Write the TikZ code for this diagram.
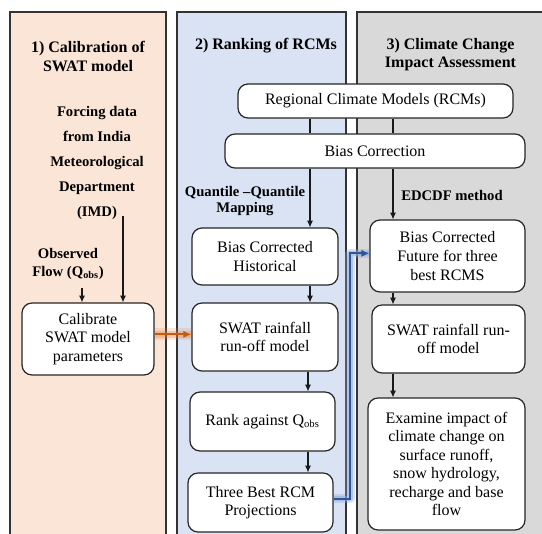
\documentclass[tikz,border=0pt]{standalone}
\usepackage{fontspec}
\setmainfont{Liberation Serif}
\usetikzlibrary{arrows.meta}
\definecolor{peach}{HTML}{FBE5D6}
\definecolor{lblue}{HTML}{DAE3F3}
\definecolor{lgray}{HTML}{D9D9D9}
\definecolor{orng}{HTML}{ED7D31}
\definecolor{orngdark}{HTML}{C55A11}
\definecolor{blu}{HTML}{2F5597}
\definecolor{blulight}{HTML}{8FAADC}
\begin{document}
\begin{tikzpicture}[x=0.75pt,y=-0.75pt,
  panel/.style={draw=black!80, line width=0.8pt},
  box/.style={draw=black!85, fill=white, rounded corners=7.5pt, line width=0.9pt,
    align=center, font=\fontsize{12}{14}\selectfont, inner sep=0pt},
  lbl/.style={align=center, font=\bfseries\fontsize{11}{12.5}\selectfont, inner sep=0pt},
  ttl/.style={align=center, font=\bfseries\fontsize{12}{14}\selectfont, inner sep=0pt},
  arr/.style={-{Latex[length=5pt,width=4.5pt]}, line width=0.8pt, draw=black!90},
  conn/.style={line width=0.8pt, draw=black!90},
]
\useasboundingbox (0,0) rectangle (542,533);
\begin{scope}
\clip (0,0) rectangle (542,533);
% panels
\path[panel, fill=peach] (10,12) rectangle (166,550);
\path[panel, fill=lblue] (177,12) rectangle (346,550);
\path[panel, fill=lgray] (357,12) rectangle (560,550);
\end{scope}

% titles
\node[ttl] (t1) at (88,56.5) {1) Calibration of\\SWAT model};
\node[ttl] (t2) at (266,46) {2) Ranking of RCMs};
\node[ttl] (t3) at (450.5,54.5) {3) Climate Change\\Impact Assessment};

% panel 1 labels
\node[lbl, font=\bfseries\fontsize{11}{18.75}\selectfont] (force) at (97,162.5)
  {Forcing data\\from India\\Meteorological\\Department\\(IMD)};
\node[lbl, font=\bfseries\fontsize{11}{13.5}\selectfont] (obs) at (68,264)
  {Observed\\Flow (Q\textsubscript{obs})};

% boxes
\node[box, minimum width=206.25pt, minimum height=25.5pt] (rcm) at (375.5,101) {Regional Climate Models (RCMs)};
\node[box, minimum width=225pt, minimum height=25.5pt] (bc) at (375,151) {Bias Correction};
\node[box, minimum width=109.5pt, minimum height=42.75pt] (bch) at (265,256.5) {Bias Corrected\\Historical};
\node[box, minimum width=109.5pt, minimum height=51pt] (sw2) at (265,337) {SWAT rainfall\\run-off model};
\node[box, minimum width=108.75pt, minimum height=44.25pt] (rank) at (262.5,421.5) {Rank against Q\textsubscript{obs}};
\node[box, minimum width=108.75pt, minimum height=44.25pt] (three) at (260.5,502.5) {Three Best RCM\\Projections};
\node[box, minimum width=99pt, minimum height=54pt] (cal) at (88,339) {Calibrate\\SWAT model\\parameters};
\node[box, minimum width=116.25pt, minimum height=54pt] (bcf) at (447.5,256) {Bias Corrected\\Future for three\\best RCMS};
\node[box, minimum width=114.75pt, minimum height=51pt] (sw3) at (448.5,339) {SWAT rainfall run-\\off model};
\node[box, minimum width=117.75pt, minimum height=99pt, font=\fontsize{12}{13.9}\selectfont] (exam) at (446.5,464)
  {Examine impact of\\climate change on\\surface runoff,\\snow hydrology,\\recharge and base\\flow};

% method labels
\node[lbl] (qq) at (245,201) {Quantile --Quantile\\Mapping};
\node[lbl] (ed) at (452,195) {EDCDF method};

% helper coordinates
\coordinate (xL) at (310,0);
\coordinate (xM) at (308,0);
\coordinate (xR) at (393,0);
\coordinate (imdtop) at (123,216);
\coordinate (obstop) at (82,288);
\coordinate (bturn) at (350,0);

% connectors
\draw[conn] (rcm.south -| xL) -- (bc.north -| xL);
\draw[conn] (rcm.south -| xR) -- (bc.north -| xR);
\draw[arr] (bc.south -| xL) -- (bch.north -| xL);
\draw[arr] (bc.south -| xR) -- (bcf.north -| xR);
\draw[arr] (bch.south -| xL) -- (sw2.north -| xL);
\draw[arr] (sw2.south -| xM) -- (rank.north -| xM);
\draw[arr] (rank.south -| xM) -- (three.north -| xM);
\draw[arr] (bcf.south -| xR) -- (sw3.north -| xR);
\draw[arr] (sw3.south -| xR) -- (exam.north -| xR);
\draw[arr] (imdtop) -- (cal.north -| imdtop);
\draw[arr] (obstop) -- (cal.north -| obstop);

% orange glowing arrow
\draw[orng, opacity=0.18, line width=9pt] ([yshift=3.5pt]cal.east) -- ([yshift=3.5pt]cal.east -| sw2.west);
\draw[orng, opacity=0.3, line width=5pt] ([yshift=3.5pt]cal.east) -- ([yshift=3.5pt]cal.east -| sw2.west);
\draw[orngdark, line width=1.5pt, -{Latex[length=6pt,width=5.5pt]}] ([yshift=3.5pt]cal.east) -- ([yshift=3.5pt]cal.east -| sw2.west);

% blue glowing arrow
\draw[blulight, opacity=0.35, line width=7pt, line join=round] ([yshift=3pt]three.east) -| ([yshift=2pt]bturn |- bcf.west) -- ([yshift=2pt]bcf.west);
\draw[blulight, opacity=0.5, line width=4pt, line join=round] ([yshift=3pt]three.east) -| ([yshift=2pt]bturn |- bcf.west) -- ([yshift=2pt]bcf.west);
\draw[blu, line width=1.5pt, -{Latex[length=6pt,width=5.5pt]}] ([yshift=3pt]three.east) -| ([yshift=2pt]bturn |- bcf.west) -- ([yshift=2pt]bcf.west);
\end{tikzpicture}
\end{document}
